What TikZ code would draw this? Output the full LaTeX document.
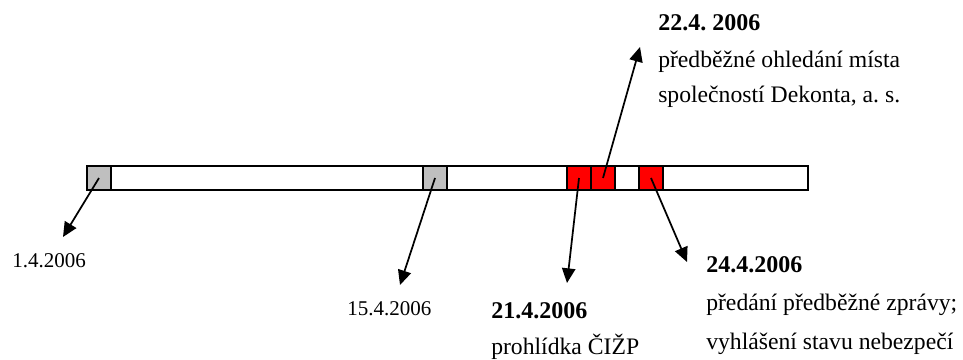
\documentclass[tikz,border=0pt]{standalone}
\usepackage{fontspec}
\setmainfont{Liberation Serif}
\usetikzlibrary{arrows.meta}
\frenchspacing

\begin{document}
\begin{tikzpicture}[x=0.75pt, y=-0.75pt,
    slot/.style={draw, line width=1.1pt, inner sep=0pt, minimum width=18pt, minimum height=18pt},
    arrow/.style={-{Triangle[length=11pt, width=10pt]}, line width=1.3pt},
    date/.style={anchor=base west, inner sep=0pt, font=\fontsize{15.75}{18}\selectfont},
    bdate/.style={anchor=base west, inner sep=0pt, font=\fontsize{18}{21}\selectfont\bfseries},
    desc/.style={anchor=base west, inner sep=0pt, font=\fontsize{17.75}{21}\selectfont}
]
    \useasboundingbox (0,0) rectangle (963,360);

    % Timeline
    \node[draw, line width=1.1pt, inner sep=0pt, minimum width=540.75pt, minimum height=18pt] (timeline) at (447.5,178) {};

    % Days
    \node[slot, fill=black!25] (d1) at (99,178) {};
    \node[slot, fill=black!25] (d15) at (435,178) {};
    \node[slot, fill=red] (d21) at (579,178) {};
    \node[slot, fill=red] (d22) at (603,178) {};
    \node[slot, fill=red] (d24) at (651,178) {};

    % Arrow ends
    \coordinate (e1) at (63,237);
    \coordinate (e15) at (400,285);
    \coordinate (e21) at (567,283);
    \coordinate (e22) at (640,47);
    \coordinate (e24) at (687,262);

    % Labels
    \node[date] (l1) at (12,267) {1.4.2006};
    \node[date] (l15) at (347,315) {15.4.2006};

    \node[bdate] (l21) at (491,318) {21.4.2006};
    \node[desc] (t21) at (491,354) {prohlídka ČIŽP};

    \node[bdate] (l22) at (658,31) {22.4. 2006};
    \node[desc] (t22a) at (658,68) {předběžné ohledání místa};
    \node[desc] (t22b) at (658,103) {společností Dekonta, a. s.};

    \node[bdate] (l24) at (706,272) {24.4.2006};
    \node[desc] (t24a) at (706,310) {předání předběžné zprávy;};
    \node[desc] (t24b) at (706,349) {vyhlášení stavu nebezpečí};

    % Connections
    \draw[arrow] (d1.center) -- (e1);
    \draw[arrow] (d15.center) -- (e15);
    \draw[arrow] (d21.center) -- (e21);
    \draw[arrow] (d22.center) -- (e22);
    \draw[arrow] (d24.center) -- (e24);
\end{tikzpicture}
\end{document}
